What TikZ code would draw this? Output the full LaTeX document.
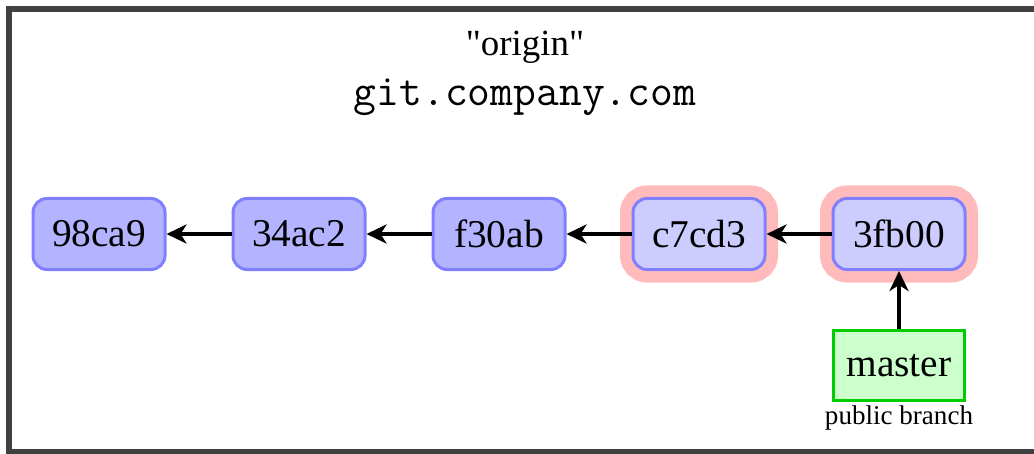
\documentclass[tikz,border=0pt]{standalone}
\usepackage{fontspec}
\setmainfont{Liberation Serif}
\newfontfamily\quotefont[Ligatures=TeXOff]{Liberation Serif}
\usetikzlibrary{positioning,arrows.meta}
\definecolor{framegray}{RGB}{64,64,64}
\definecolor{commitfill}{RGB}{179,179,255}
\definecolor{pushedfill}{RGB}{204,204,255}
\definecolor{commitline}{RGB}{128,128,255}
\definecolor{halo}{RGB}{255,187,187}
\definecolor{branchfill}{RGB}{204,255,204}
\definecolor{branchline}{RGB}{0,204,0}
\tikzset{
  commit/.style={draw=commitline, fill=commitfill, line width=0.03cm, rounded corners=0.14cm,
    minimum width=1.32cm, minimum height=0.71cm, inner sep=0pt, font=\fontsize{11.2}{13}\selectfont},
  pushed/.style={commit, fill=pushedfill, preaction={draw=halo, line width=0.26cm}},
  branch/.style={draw=branchline, fill=branchfill, line width=0.03cm,
    minimum width=1.31cm, minimum height=0.70cm, inner sep=0pt, font=\fontsize{11.2}{13}\selectfont},
  parent/.style={-{Stealth[length=0.2cm,width=0.19cm,inset=0.06cm]}, line width=0.035cm}
}
\begin{document}
\begin{tikzpicture}[node distance=0.65cm]
\useasboundingbox (0,0) rectangle (10.34,4.53);
\draw [framegray, line width=0.06cm] (0.09,0.015) rectangle (10.45,4.44);

% remote name
\node [anchor=base, font=\fontsize{10.5}{12}\quotefont] (remote) at (5.25,3.97) {"origin"};
\node [anchor=base, font=\fontsize{12.6}{14}\ttfamily] (host) at (5.25,3.47) {git.company.com};

% commits
\node [commit] (c98ca9) at (0.99,2.19) {98ca9};
\node [commit, right=of c98ca9] (c34ac2) {34ac2};
\node [commit, right=of c34ac2] (cf30ab) {f30ab};
\node [pushed, right=of cf30ab] (cc7cd3) {c7cd3};
\node [pushed, right=of cc7cd3] (c3fb00) {3fb00};

\draw [parent] (c34ac2) -- (c98ca9);
\draw [parent] (cf30ab) -- (c34ac2);
\draw [parent] (cc7cd3) -- (cf30ab);
\draw [parent] (c3fb00) -- (cc7cd3);

% branch
\node [branch, below=0.58cm of c3fb00] (master) {master};
\node [below=0.03cm of master, inner sep=0pt, font=\fontsize{7.7}{9}\selectfont] (masterlabel) {public branch};
\draw [parent] (master) -- (c3fb00);
\end{tikzpicture}
\end{document}
